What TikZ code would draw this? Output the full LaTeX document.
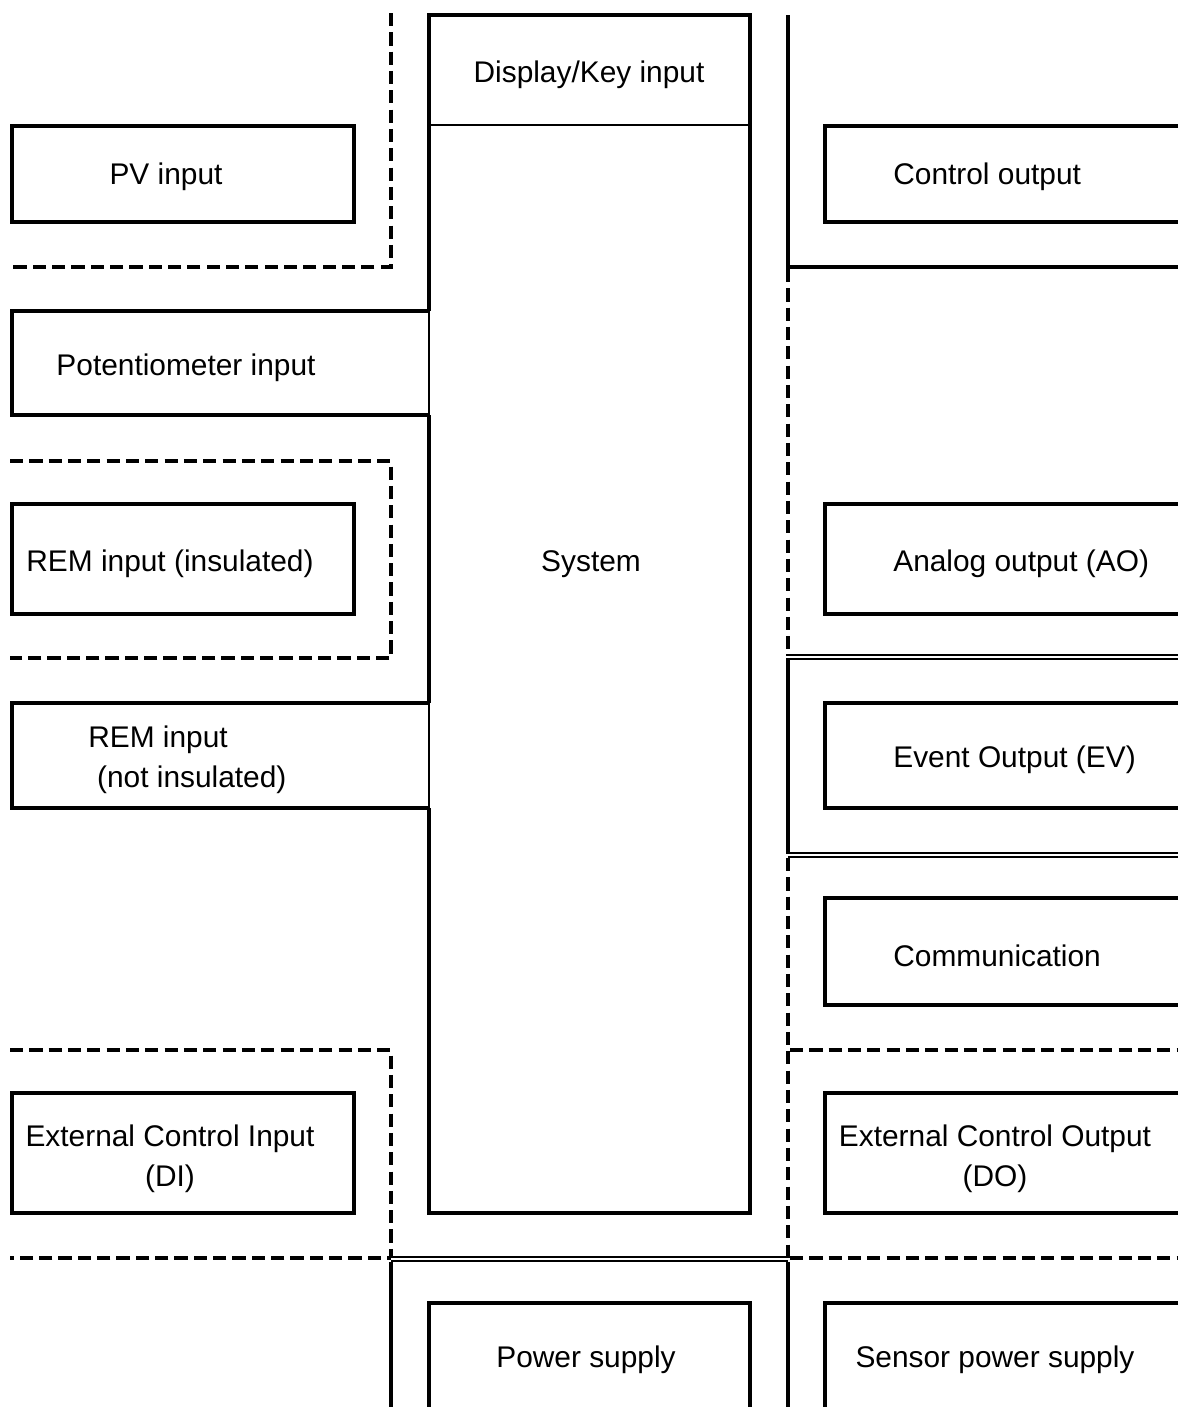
\documentclass[tikz,border=0pt]{standalone}
\usepackage{fontspec}
\setmainfont{Liberation Sans}

\tikzset{
  blk/.style={line width=2.2pt},
  thinsep/.style={line width=0.9pt},
  isodash/.style={line width=2.3pt, dash pattern=on 7.5pt off 3.5pt},
  isodouble/.style={double, line width=1pt, double distance=1pt},
  lbl/.style={font=\fontsize{17}{22.7}\selectfont, inner sep=0pt},
}

\begin{document}
\begin{tikzpicture}[x=0.02cm,y=-0.02cm]
    \useasboundingbox (0,0) rectangle (1178,1407);
    % system column
    \draw[blk] (429,311) -- (429,15) -- (750,15) -- (750,1213) -- (429,1213) -- (429,808);
    \draw[blk] (429,415) -- (429,703);
    \draw[thinsep] (429,311) -- (429,415);
    \draw[thinsep] (429,703) -- (429,808);
    \draw[thinsep] (429,125) -- (750,125);
    \node[lbl] (disp) at (589,75) {Display/Key input};
    \node[lbl] (sys) at (591,564) {System};

    % left side
    \draw[blk] (12,126) rectangle (354,222);
    \node[lbl] (pv) at (166,177) {PV input};
    \draw[isodash] (391,13) -- (391,267) -- (10,267);
    \draw[blk] (429,311) -- (12,311) -- (12,415) -- (429,415);
    \node[lbl] (pot) at (186,368) {Potentiometer input};
    \draw[isodash] (10,461) -- (391,461) -- (391,658) -- (10,658);
    \draw[blk] (12,504) rectangle (354,614);
    \node[lbl] (remins) at (170,564) {REM input (insulated)};
    \draw[blk] (429,703) -- (12,703) -- (12,808) -- (429,808);
    \node[lbl,anchor=west,align=left] (remnot) at (88,760) {REM input\\\hspace*{5pt}(not insulated)};
    \draw[isodash] (10,1050) -- (391,1050) -- (391,1258) -- (10,1258);
    \draw[blk] (12,1093) rectangle (354,1213);
    \node[lbl,align=center] (extin) at (170,1159) {External Control Input\\(DI)};

    % right side
    \draw[blk] (788,15) -- (788,267) -- (1178,267);
    \draw[blk] (1178,126) -- (825,126) -- (825,222) -- (1178,222);
    \node[lbl,anchor=west] (ctrl) at (893,177) {Control output};
    \draw[isodash] (788,269) -- (788,656);
    \draw[blk] (1178,504) -- (825,504) -- (825,614) -- (1178,614);
    \node[lbl,anchor=west] (ao) at (893,564) {Analog output (AO)};
    \draw[isodouble] (786,657) -- (1178,657);
    \draw[blk] (788,659) -- (788,854);
    \draw[blk] (1178,703) -- (825,703) -- (825,808) -- (1178,808);
    \node[lbl,anchor=west] (ev) at (893,760) {Event Output (EV)};
    \draw[isodouble] (788,855) -- (1178,855);
    \draw[isodash] (788,858) -- (788,1258);
    \draw[blk] (1178,898) -- (825,898) -- (825,1005) -- (1178,1005);
    \node[lbl,anchor=west] (comm) at (893,956) {Communication};
    \draw[isodash] (790,1050) -- (1178,1050);
    \draw[blk] (1178,1093) -- (825,1093) -- (825,1213) -- (1178,1213);
    \node[lbl,align=center] (extout) at (995,1159) {External Control Output\\(DO)};
    \draw[isodash] (790,1258) -- (1178,1258);

    % power section
    \draw[isodouble] (391,1259) -- (788,1259);
    \draw[blk] (391,1262) -- (391,1407);
    \draw[blk] (788,1262) -- (788,1407);
    \draw[blk] (429,1407) -- (429,1303) -- (750,1303) -- (750,1407);
    \node[lbl] (pwr) at (586,1360) {Power supply};
    \draw[blk] (1178,1303) -- (825,1303) -- (825,1407);
    \node[lbl] (sens) at (995,1360) {Sensor power supply};
\end{tikzpicture}
\end{document}
